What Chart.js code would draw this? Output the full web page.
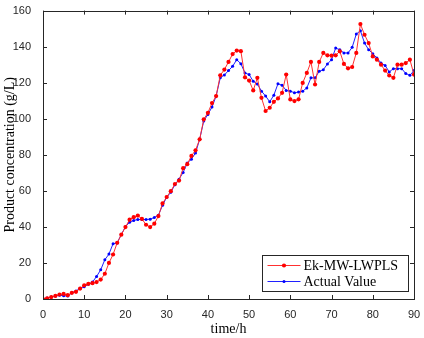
<!DOCTYPE html>
<html>
<head>
<meta charset="utf-8">
<script src="https://cdn.jsdelivr.net/npm/chart.js@4"></script>
<style>
  html, body { margin: 0; padding: 0; background: #fff; }
  #wrap { width: 424px; height: 338px; }
</style>
</head>
<body>
<div id="wrap"><canvas id="concChart"></canvas></div>
<script>
var hours = [];
for (var h = 0; h <= 90; h++) hours.push(h);

var predicted = [0, 0.4, 1.1, 1.7, 2.5, 2.8, 2.1, 3.4, 4.0, 5.8,
  7.6, 8.4, 8.8, 9.4, 10.8, 14, 20, 24.7, 31.2, 35.7,
  39.9, 44, 45.4, 46.3, 44.4, 41.2, 39.9, 41.8, 46, 53,
  56.6, 59.8, 63.8, 65.7, 72.6, 74.8, 79.4, 82.5, 88.6, 99.7,
  103.3, 108.7, 112.6, 124.1, 127.3, 131.5, 135.9, 137.8, 137.5, 123,
  121.2, 115.7, 122.7, 111.6, 104.3, 106.1, 109.4, 111.3, 114.4, 124.5,
  110.7, 109.8, 110.8, 119.9, 125.4, 131.5, 119, 131.5, 136.5, 135.2,
  135, 135.2, 137.4, 130.4, 128, 128.7, 136.5, 152.5, 146.6, 142,
  134.6, 132.8, 130, 126.7, 124, 122.7, 130, 130, 130.9, 132.8,
  124.5];

var actual = [0, 0.5, 1.1, 1.7, 2.1, 1.8, 1.6, 3.5, 4.4, 6,
  6.8, 8.2, 9.4, 12.5, 16.2, 21.8, 24.9, 30.7, 31.1, 35.8,
  40.1, 42.6, 43.6, 44.1, 44.1, 44.1, 44.3, 45.2, 46.5, 52,
  56.4, 59.2, 63.4, 66.5, 70.2, 75.4, 77.6, 81, 88.6, 98.8,
  102.4, 106.5, 112.6, 122.7, 124.3, 126.7, 129.1, 132.8, 130.5, 125.4,
  124.5, 120.8, 119.3, 115.3, 112.6, 109.4, 113.1, 119.4, 118.6, 115.7,
  115.3, 114.4, 114.8, 115.3, 117.1, 122.7, 122.7, 126.3, 127.2, 130.4,
  132.8, 139.2, 138.3, 136.5, 136.5, 139.6, 147, 148.8, 142, 138.3,
  136.1, 133.7, 130.9, 129.5, 126, 127.8, 127.8, 127.8, 125.1, 124.1,
  126.7];

var xTicks = [0, 10, 20, 30, 40, 50, 60, 70, 80, 90];
var yTicks = [0, 20, 40, 60, 80, 100, 120, 140, 160];

var seriesNames = ['Ek-MW-LWPLS', 'Actual Value'];

function toPoints(ys) {
  return hours.map(function (x, i) { return { x: x, y: ys[i] }; });
}

// box around the plot with ticks pointing inward (matlab look)
var boxPlugin = {
  id: 'box',
  afterDraw: function (chart) {
    var c = chart.ctx, a = chart.chartArea;
    var xs = chart.scales.x, ys = chart.scales.y;
    c.save();
    c.strokeStyle = '#262626';
    c.lineWidth = 1;
    c.strokeRect(Math.round(a.left) + 0.5, Math.round(a.top) + 0.5,
      Math.round(a.right - a.left), Math.round(a.bottom - a.top));
    c.beginPath();
    xTicks.forEach(function (v) {
      var px = Math.round(xs.getPixelForValue(v)) + 0.5;
      c.moveTo(px, a.bottom); c.lineTo(px, a.bottom - 4);
      c.moveTo(px, a.top); c.lineTo(px, a.top + 4);
    });
    yTicks.forEach(function (v) {
      var py = Math.round(ys.getPixelForValue(v)) + 0.5;
      c.moveTo(a.left, py); c.lineTo(a.left + 4, py);
      c.moveTo(a.right, py); c.lineTo(a.right - 4, py);
    });
    c.stroke();

    // legend in lower right corner
    var lx = 262.5, ly = 255.5, lw = 146, lh = 36;
    c.fillStyle = '#fff';
    c.fillRect(lx, ly, lw, lh);
    c.strokeStyle = '#262626';
    c.strokeRect(lx, ly, lw, lh);
    chart.data.datasets.forEach(function (ds, i) {
      var yy = ly + 10 + i * 16;
      c.strokeStyle = ds.borderColor;
      c.lineWidth = 1;
      c.beginPath();
      c.moveTo(lx + 5, yy); c.lineTo(lx + 38, yy);
      c.stroke();
      c.fillStyle = ds.pointBackgroundColor;
      c.beginPath();
      c.arc(lx + 21.5, yy, ds.pointRadius, 0, Math.PI * 2);
      c.fill();
      c.fillStyle = '#000';
      c.font = '14px "Liberation Serif"';
      c.textBaseline = 'middle';
      c.fillText(seriesNames[i], lx + 41, yy + 1);
    });
    c.restore();
  }
};

document.addEventListener('DOMContentLoaded', function () {
  var ctx = document.getElementById('concChart').getContext('2d');
  new Chart(ctx, {
    type: 'line',
    data: {
      datasets: [{
        label: seriesNames[0],
        data: toPoints(predicted),
        borderColor: '#ff3030',
        backgroundColor: '#ff0000',
        pointBackgroundColor: '#ff0000',
        pointBorderWidth: 0,
        pointRadius: 2.1,
        borderWidth: 1,
        tension: 0
      }, {
        label: seriesNames[1],
        data: toPoints(actual),
        borderColor: '#2020ff',
        backgroundColor: '#0000ff',
        pointBackgroundColor: '#0000ff',
        pointBorderWidth: 0,
        pointRadius: 1.5,
        borderWidth: 1,
        tension: 0
      }]
    },
    options: {
      responsive: true,
      maintainAspectRatio: false,
      animation: false,
      layout: { padding: { left: 2, right: 10, top: 9, bottom: 0 } },
      scales: {
        x: {
          type: 'linear',
          min: 0, max: 90,
          afterBuildTicks: function (s) { s.ticks = xTicks.map(function (v) { return { value: v }; }); },
          afterFit: function (s) { s.height = 39; },
          grid: { display: false },
          border: { display: false },
          ticks: { color: '#262626', font: { family: 'Liberation Sans', size: 11 }, padding: 1 },
          title: { display: true, text: 'time/h', color: '#000', font: { family: 'Liberation Serif', size: 14 }, padding: { top: 0, bottom: 0 } }
        },
        y: {
          min: 0, max: 160,
          afterBuildTicks: function (s) { s.ticks = yTicks.map(function (v) { return { value: v }; }); },
          afterFit: function (s) { s.width = 41; },
          grid: { display: false },
          border: { display: false },
          ticks: { color: '#262626', font: { family: 'Liberation Sans', size: 11 }, padding: 4 },
          title: { display: true, text: 'Product concentration (g/L)', color: '#000', font: { family: 'Liberation Serif', size: 14 }, padding: { top: 0, bottom: 0 } }
        }
      },
      plugins: {
        legend: { display: false },
        tooltip: { enabled: false }
      }
    },
    plugins: [boxPlugin]
  });
});
</script>
</body>
</html>
